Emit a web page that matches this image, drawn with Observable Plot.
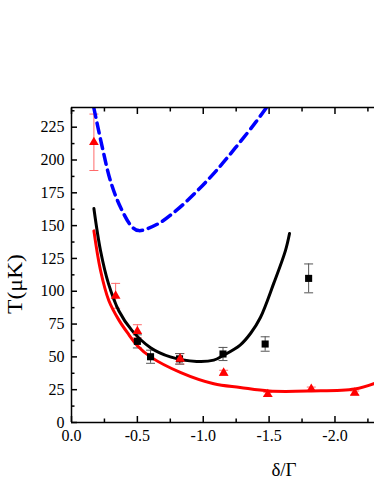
<!DOCTYPE html>
<html><head><meta charset="utf-8">
<script src="https://cdn.jsdelivr.net/npm/d3@7"></script>
<script src="https://cdn.jsdelivr.net/npm/@observablehq/plot@0.6"></script>
<style>body{margin:0;background:#fff} svg text{font-family:"Liberation Serif",serif !important}</style>
</head><body><div id="chart"></div>
<script>
// Measured data (black squares, red triangles) with error bars
const squareX = [-0.50, -0.60, -0.82, -1.15, -1.47, -1.80];
const squareY = [61.8, 50.1, 48.5, 52.2, 59.8, 109.8];
const squareErr = [5, 5, 4, 5, 5.5, 11];
const triX = [-0.17, -0.335, -0.50, -0.825, -1.155, -1.49, -1.82, -2.15];
const triY = [213.5, 96.5, 69.5, 48.5, 37.8, 21.5, 25.5, 22.5];
const triErr = [21.5, 9.5, 5, 4, 2, 1.5, 1.5, 1.5];
// Fit curves
const blackFitX = [-0.17, -0.22, -0.28, -0.36, -0.46, -0.60, -0.75, -0.95, -1.08, -1.15, -1.28, -1.36, -1.434, -1.535, -1.624, -1.655];
const blackFitY = [163, 131, 106, 85, 70, 57, 50, 46.5, 47.5, 51, 59, 68, 80, 106, 131, 144];
const redFitX = [-0.17, -0.22, -0.283, -0.36, -0.435, -0.50, -0.60, -0.83, -1.08, -1.28, -1.50, -1.82, -2.15, -2.30];
const redFitY = [146, 116, 93, 78, 67, 58.5, 50, 38, 29.5, 26.7, 24, 24, 25.5, 29.7];
const blueFitX = [-0.169, -0.233, -0.296, -0.372, -0.46, -0.511, -0.65, -0.80, -0.95, -1.10, -1.25, -1.40, -1.48];
const blueFitY = [240, 210, 184, 164, 149, 146.2, 151, 162, 176, 192, 210, 229, 240];
// Axis ticks
const xTicks = [0, -0.5, -1.0, -1.5, -2.0];
const xMinor = [-0.25, -0.75, -1.25, -1.75, -2.25];
const yTicks = [0, 25, 50, 75, 100, 125, 150, 175, 200, 225];
const yMinor = [12.5, 37.5, 62.5, 87.5, 112.5, 137.5, 162.5, 187.5, 212.5, 237.5];
const xLabel = "δ/Γ";
const yLabel = "T(μK)";

const FONT = "Liberation Serif, serif";
const squares = squareX.map((x, i) => ({x, y: squareY[i], e: squareErr[i]}));
const tris = triX.map((x, i) => ({x, y: triY[i], e: triErr[i]}));
const fit = (xs, ys) => xs.map((x, i) => ({x, y: ys[i]}));
const cap = 0.034;

const plot = Plot.plot({
  width: 374, height: 484,
  marginLeft: 71, marginRight: 0, marginTop: 107, marginBottom: 62,
  style: {fontFamily: FONT, fontSize: "16px", background: "#fff"},
  x: {domain: [0, -2.3]},
  y: {domain: [0, 240]},
  marks: [
    // error bars
    Plot.ruleX(tris, {x: "x", y1: d => d.y - d.e, y2: d => d.y + d.e, stroke: "#ff6b6b", strokeWidth: 1}),
    Plot.link(tris, {x1: d => d.x - cap, x2: d => d.x + cap, y1: d => d.y - d.e, y2: d => d.y - d.e, stroke: "#ff6b6b", strokeWidth: 1}),
    Plot.link(tris, {x1: d => d.x - cap, x2: d => d.x + cap, y1: d => d.y + d.e, y2: d => d.y + d.e, stroke: "#ff6b6b", strokeWidth: 1}),
    Plot.ruleX(squares, {x: "x", y1: d => d.y - d.e, y2: d => d.y + d.e, stroke: "#555", strokeWidth: 1}),
    Plot.link(squares, {x1: d => d.x - cap, x2: d => d.x + cap, y1: d => d.y - d.e, y2: d => d.y - d.e, stroke: "#555", strokeWidth: 1}),
    Plot.link(squares, {x1: d => d.x - cap, x2: d => d.x + cap, y1: d => d.y + d.e, y2: d => d.y + d.e, stroke: "#555", strokeWidth: 1}),
    // fit curves
    Plot.line(fit(blueFitX, blueFitY), {x: "x", y: "y", curve: "catmull-rom", stroke: "#0000ff", strokeWidth: 3.5, strokeDasharray: "10,6", clip: true}),
    Plot.line(fit(redFitX, redFitY), {x: "x", y: "y", curve: "catmull-rom", stroke: "#ff0000", strokeWidth: 3}),
    Plot.line(fit(blackFitX, blackFitY), {x: "x", y: "y", curve: "catmull-rom", stroke: "#000", strokeWidth: 3}),
    // symbols
    Plot.dot(squares, {x: "x", y: "y", symbol: "square", r: 4, fill: "#000"}),
    Plot.dot(tris, {x: "x", y: "y", symbol: "triangle", r: 3.6, fill: "#ff0000"}),
    // frame lines
    Plot.ruleY([0], {stroke: "#000", strokeWidth: 1.5}),
    Plot.ruleY([240], {stroke: "#000", strokeWidth: 1.5}),
    Plot.ruleX([0], {stroke: "#000", strokeWidth: 1.5}),
    // ticks (inward)
    Plot.axisX({ticks: xTicks, tickSize: -6, tickFormat: () => "", label: null, strokeWidth: 1.5}),
    Plot.axisX({ticks: xMinor, tickSize: -3.5, tickFormat: () => "", label: null, strokeWidth: 1.5}),
    Plot.axisX({anchor: "top", ticks: xTicks, tickSize: -6, tickFormat: () => "", label: null, strokeWidth: 1.5}),
    Plot.axisX({anchor: "top", ticks: xMinor, tickSize: -3.5, tickFormat: () => "", label: null, strokeWidth: 1.5}),
    Plot.axisY({ticks: yTicks, tickSize: -6, tickFormat: () => "", label: null, strokeWidth: 1.5}),
    Plot.axisY({ticks: yMinor, tickSize: -3.5, tickFormat: () => "", label: null, strokeWidth: 1.5}),
    // tick labels
    Plot.axisX({ticks: xTicks, tickSize: 0, tickPadding: 7, tickFormat: d => d.toFixed(1), label: null, fontSize: 16, fontFamily: FONT, fill: "#000"}),
    Plot.axisY({ticks: yTicks, tickSize: 0, tickPadding: 7, tickFormat: d => String(d), label: null, fontSize: 16, fontFamily: FONT, fill: "#000"})
  ]
});

const svg = d3.select(plot);
svg.append("text").attr("x", 284).attr("y", 476).attr("text-anchor", "middle")
  .attr("font-family", FONT).attr("font-size", 19).attr("fill", "#000").text(xLabel);
svg.append("text").attr("transform", "translate(22,284) rotate(-90)").attr("text-anchor", "middle")
  .attr("font-family", FONT).attr("font-size", 20).attr("textLength", 60).attr("lengthAdjust", "spacingAndGlyphs")
  .attr("fill", "#000").text(yLabel);
document.getElementById("chart").appendChild(plot);
</script>
</body></html>
